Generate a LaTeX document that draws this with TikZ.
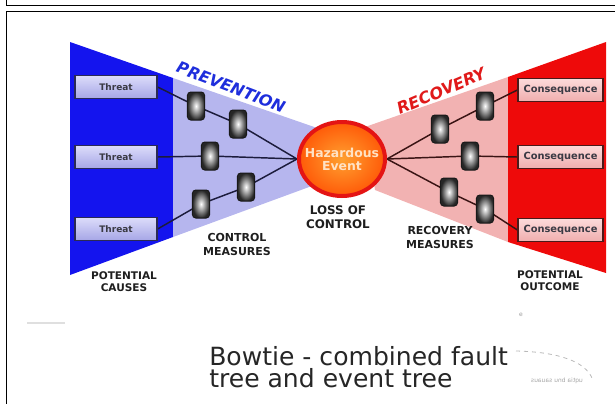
\documentclass[tikz,border=0pt]{standalone}
\usepackage{fontspec}
\setmainfont{DejaVu Sans}
\usetikzlibrary{shapes.geometric}

\pgfdeclarelayer{wedges}
\pgfdeclarelayer{links}
\pgfsetlayers{wedges,links,main}

\definecolor{causeblue}{HTML}{1414EE}
\definecolor{preventlight}{HTML}{B6B6EE}
\definecolor{outred}{HTML}{EE0A0A}
\definecolor{recoverlight}{HTML}{F2B2B2}
\definecolor{threattop}{HTML}{DCDCFA}
\definecolor{threatbot}{HTML}{A6A6E6}
\definecolor{threatedge}{HTML}{2A2A55}
\definecolor{conseqtop}{HTML}{FCDADA}
\definecolor{conseqbot}{HTML}{F0AEAE}
\definecolor{conseqedge}{HTML}{4A1A1A}
\definecolor{boxtext}{HTML}{3A3A44}
\definecolor{hazring}{HTML}{E41414}
\definecolor{hazinner}{HTML}{FFA030}
\definecolor{hazouter}{HTML}{FF5A08}
\definecolor{hazfont}{HTML}{FFE2C4}
\definecolor{prevblue}{HTML}{1E2EDC}
\definecolor{recred}{HTML}{E01A1A}
\definecolor{linkleft}{HTML}{1C1C3C}
\definecolor{linkright}{HTML}{3A1414}
\definecolor{labeltext}{HTML}{1E1E1E}
\definecolor{titletext}{HTML}{262626}

\begin{document}
\begin{tikzpicture}[x=0.75pt,y=-0.75pt,
  threatbox/.style={draw=threatedge, line width=0.9pt, top color=threattop,
    bottom color=threatbot, minimum width=61.5pt, minimum height=17pt,
    inner sep=0pt, font=\fontsize{6.75}{8}\selectfont\bfseries, text=boxtext},
  conseqbox/.style={draw=conseqedge, line width=0.9pt, top color=conseqtop,
    bottom color=conseqbot, minimum width=63.75pt, minimum height=17pt,
    inner sep=0pt, font=\fontsize{7.4}{8}\selectfont\bfseries, text=boxtext},
  barrier/.style={draw=black!90, line width=0.75pt, rounded corners=2.5pt,
    inner color=white, outer color=black!85, minimum width=12.8pt,
    minimum height=21pt, inner sep=0pt},
  hazard/.style={ellipse, draw=hazring, line width=3pt, inner color=hazinner,
    outer color=hazouter, minimum width=64.5pt, minimum height=55.5pt,
    inner sep=0pt, align=center, text=hazfont,
    font=\fontsize{9.3}{9.75}\selectfont\bfseries},
  lbl/.style={align=center, text=labeltext, inner sep=0pt,
    font=\fontsize{8.25}{10.5}\selectfont\bfseries},
  smalllbl/.style={align=center, text=labeltext, inner sep=0pt,
    font=\fontsize{7.9}{9}\selectfont\bfseries},
  linkl/.style={draw=linkleft, line width=1.1pt},
  linkr/.style={draw=linkright, line width=1.1pt},
  frameline/.style={draw=black, line width=1.3pt},
  title/.style={anchor=base west, inner sep=0pt, text=titletext,
    font=\fontsize{18.8}{22}\selectfont}
]
\useasboundingbox (0,0) rectangle (615,404);

% page frames
\draw[frameline] (6.5,0) -- (6.5,5.5) -- (615,5.5);
\draw[frameline] (615,11.5) -- (6.5,11.5) -- (6.5,404);

% wedges of the bowtie
\begin{pgfonlayer}{wedges}
  \fill[causeblue] (70,42) -- (173,78) -- (173,237) -- (70,275) -- cycle;
  \fill[preventlight] (173,78) -- (320,129) -- (320,183) -- (173,237) -- cycle;
  \fill[recoverlight] (365,127) -- (508,77) -- (508,242) -- (375,190) -- cycle;
  \fill[outred] (508,77) -- (606,42) -- (606,273) -- (508,242) -- cycle;
\end{pgfonlayer}

% central event (zero-width text boxes keep the ellipse at its set size)
\node[hazard] (haz) at (342,159) {\makebox[0pt]{Hazardous}\\\makebox[0pt]{Event}};

% threats and consequences
\node[threatbox] (t1) at (116,87) {Threat};
\node[threatbox] (t2) at (116,157) {Threat};
\node[threatbox] (t3) at (116,229) {Threat};
\node[conseqbox] (c1) at (560.5,90) {Consequence};
\node[conseqbox] (c2) at (560.5,157) {Consequence};
\node[conseqbox] (c3) at (560.5,230) {Consequence};

% control measures
\node[barrier] (b1) at (196,106) {};
\node[barrier] (b2) at (238,124) {};
\node[barrier] (b3) at (210,156) {};
\node[barrier] (b4) at (246,187) {};
\node[barrier] (b5) at (201,204) {};

% recovery measures
\node[barrier] (r1) at (440,129) {};
\node[barrier] (r2) at (485,106) {};
\node[barrier] (r3) at (470,156) {};
\node[barrier] (r4) at (449,192) {};
\node[barrier] (r5) at (485,209) {};

% connecting lines
\begin{pgfonlayer}{links}
  \draw[linkl] (t1.east) -- (b1.center) -- (b2.center) -- (haz.west);
  \draw[linkl] (t2.east) -- (b3.center) -- (haz.west);
  \draw[linkl] (t3.east) -- (b5.center) -- (b4.center) -- (haz.west);
  \draw[linkr] (haz.east) -- (r1.center) -- (r2.center) -- (c1.west);
  \draw[linkr] (haz.east) -- (r3.center) -- (c2.west);
  \draw[linkr] (haz.east) -- (r4.center) -- (r5.center) -- (c3.west);
\end{pgfonlayer}

% headings along the wedges
\node[rotate=-21, text=prevblue, inner sep=0pt,
  font=\fontsize{11.9}{12}\selectfont\bfseries\itshape] (prev) at (231,87) {PREVENTION};
\node[rotate=23, text=recred, inner sep=0pt,
  font=\fontsize{12.1}{12}\selectfont\bfseries\itshape] (rec) at (441,91) {RECOVERY};

% labels
\node[lbl, font=\fontsize{8.9}{10.5}\selectfont\bfseries] (loss) at (338,217) {LOSS OF\\CONTROL};
\node[lbl] (ctrl) at (237,244) {CONTROL\\MEASURES};
\node[lbl] (recm) at (440,237) {RECOVERY\\MEASURES};
\node[smalllbl] (causes) at (124,282) {POTENTIAL\\CAUSES};
\node[smalllbl] (outcome) at (550,281) {POTENTIAL\\OUTCOME};

% caption
\node[title] (cap1) at (209,365) {Bowtie - combined fault};
\node[title] (cap2) at (209,387) {tree and event tree};

% faint marks near the caption
\coordinate (dashA) at (516,351);
\coordinate (dashB) at (592,378);
\draw[dashed, gray!55, line width=0.6pt] (dashA) .. controls (560,352) and (585,362) .. (dashB);
\node[text=gray!70, inner sep=0pt, xscale=-1, font=\fontsize{4.5}{5}\selectfont] (mirr) at (557,381) {uqtia bnu sauaus};
\node[text=gray!80, inner sep=0pt, font=\fontsize{4.5}{5}\selectfont] (dot) at (521,315) {e};
\draw[gray!25, line width=1pt] (27,323) -- (65,323);
\end{tikzpicture}
\end{document}
